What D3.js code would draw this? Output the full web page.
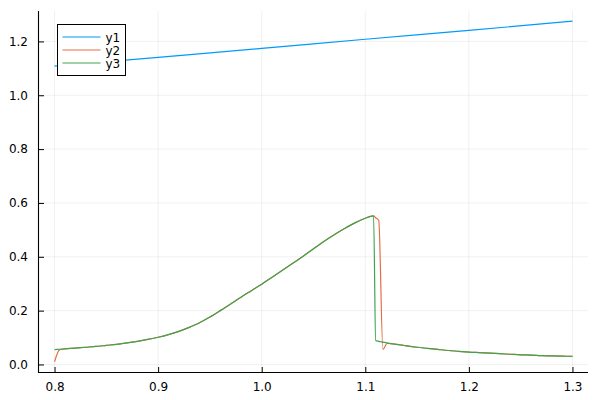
<!DOCTYPE html>
<html>
<head>
<meta charset="utf-8">
<script src="https://cdn.jsdelivr.net/npm/d3@7"></script>
<style>
  html, body { margin: 0; padding: 0; background: #fff; }
  svg { display: block; }
  text { font-family: "DejaVu Sans", sans-serif; }
</style>
</head>
<body>
<svg id="chart" width="600" height="400"></svg>
<script>
// ---- data ----
const seriesNames = ["y1", "y2", "y3"];
const seriesColors = ["#009AFA", "#E36F47", "#3EA44E"];

const y1X = [0.80, 0.90, 1.00, 1.10, 1.20, 1.30];
const y1Values = [1.108, 1.141, 1.174, 1.208, 1.241, 1.275];

const curveX = [0.800, 0.805, 0.81, 0.82, 0.83, 0.84, 0.85, 0.86, 0.87, 0.88, 0.89,
  0.90, 0.91, 0.92, 0.93, 0.94, 0.95, 0.96, 0.97, 0.98, 0.99,
  1.00, 1.01, 1.02, 1.03, 1.04, 1.05, 1.06, 1.07, 1.08, 1.09,
  1.10, 1.105, 1.108, 1.110, 1.113, 1.117, 1.121,
  1.13, 1.14, 1.15, 1.16, 1.17, 1.18, 1.19,
  1.20, 1.21, 1.22, 1.23, 1.24, 1.25, 1.26, 1.27, 1.28, 1.29, 1.30];

const y2Values = [0.010, 0.055, 0.058, 0.061, 0.064, 0.067, 0.071, 0.075, 0.080, 0.086, 0.093,
  0.101, 0.111, 0.123, 0.138, 0.155, 0.176, 0.200, 0.225, 0.250, 0.274,
  0.298, 0.324, 0.350, 0.376, 0.402, 0.430, 0.457, 0.482, 0.505, 0.526,
  0.543, 0.550, 0.552, 0.545, 0.535, 0.056, 0.078,
  0.075, 0.069, 0.064, 0.060, 0.056, 0.052, 0.049,
  0.046, 0.044, 0.042, 0.040, 0.038, 0.036, 0.035, 0.033, 0.032, 0.031, 0.030];

const y3Values = [0.055, 0.0565, 0.058, 0.061, 0.064, 0.067, 0.071, 0.075, 0.080, 0.086, 0.093,
  0.101, 0.111, 0.123, 0.138, 0.155, 0.176, 0.200, 0.225, 0.250, 0.274,
  0.298, 0.324, 0.350, 0.376, 0.402, 0.430, 0.457, 0.482, 0.505, 0.526,
  0.543, 0.550, 0.552, 0.089, 0.086, 0.083, 0.080,
  0.075, 0.069, 0.064, 0.060, 0.056, 0.052, 0.049,
  0.046, 0.044, 0.042, 0.040, 0.038, 0.036, 0.035, 0.033, 0.032, 0.031, 0.030];

const xTicks = [0.8, 0.9, 1.0, 1.1, 1.2, 1.3];
const yTicks = [0.0, 0.2, 0.4, 0.6, 0.8, 1.0, 1.2];

// ---- layout ----
const svg = d3.select("#chart");
const plot = { left: 39, right: 588, top: 11, bottom: 372 };

const allX = y1X.concat(curveX);
const allY = y1Values.concat(y2Values, y3Values);
const xMin = d3.min(allX), xMax = d3.max(allX);
const yMin = d3.min(allY), yMax = d3.max(allY);
const xPad = (xMax - xMin) * 0.03, yPad = (yMax - yMin) * 0.03;

const x = d3.scaleLinear().domain([xMin - xPad, xMax + xPad]).range([plot.left, plot.right]);
const y = d3.scaleLinear().domain([yMin - yPad, yMax + yPad]).range([plot.bottom, plot.top]);

// grid
const grid = svg.append("g").attr("stroke", "#000").attr("stroke-opacity", 0.1).attr("stroke-width", 0.6);
grid.selectAll("line.gx").data(xTicks).join("line")
  .attr("x1", d => x(d)).attr("x2", d => x(d))
  .attr("y1", plot.top).attr("y2", plot.bottom);
grid.selectAll("line.gy").data(yTicks).join("line")
  .attr("y1", d => y(d)).attr("y2", d => y(d))
  .attr("x1", plot.left).attr("x2", plot.right);

// axes
const fmt = d3.format(".1f");
const xAxis = d3.axisBottom(x).tickValues(xTicks).tickFormat(fmt).tickSizeInner(-5).tickSizeOuter(0).tickPadding(10);
const yAxis = d3.axisLeft(y).tickValues(yTicks).tickFormat(fmt).tickSizeInner(-5).tickSizeOuter(0).tickPadding(11);

const gx = svg.append("g").attr("transform", `translate(0,${plot.bottom})`).call(xAxis);
const gy = svg.append("g").attr("transform", `translate(${plot.left},0)`).call(yAxis);
[gx, gy].forEach(g => {
  g.select(".domain").remove();
  g.selectAll(".tick line").attr("stroke", "#000").attr("stroke-width", 1);
  g.selectAll(".tick text").attr("fill", "#000").style("font-family", "'DejaVu Sans', sans-serif").style("font-size", "12px");
});
svg.append("line").attr("x1", plot.left).attr("x2", plot.right).attr("y1", plot.bottom + 0.5).attr("y2", plot.bottom + 0.5)
  .attr("stroke", "#000").attr("stroke-width", 1.1);
svg.append("line").attr("x1", plot.left - 0.5).attr("x2", plot.left - 0.5).attr("y1", plot.top).attr("y2", plot.bottom + 1)
  .attr("stroke", "#000").attr("stroke-width", 1.1);

// series
const line = d3.line().x(d => x(d[0])).y(d => y(d[1])).curve(d3.curveMonotoneX);
const seriesData = [
  d3.zip(y1X, y1Values),
  d3.zip(curveX, y2Values),
  d3.zip(curveX, y3Values)
];
seriesData.forEach((data, i) => {
  svg.append("path").datum(data)
    .attr("fill", "none")
    .attr("stroke", seriesColors[i])
    .attr("stroke-width", 1.2)
    .attr("stroke-linejoin", "round")
    .attr("d", line);
});

// legend
const lg = svg.append("g").attr("transform", "translate(57.5,24.5)");
lg.append("rect").attr("width", 68).attr("height", 51).attr("fill", "#fff").attr("stroke", "#000").attr("stroke-width", 1);
seriesNames.forEach((name, i) => {
  const yy = 12.5 + i * 13;
  lg.append("line").attr("x1", 5).attr("x2", 43).attr("y1", yy).attr("y2", yy)
    .attr("stroke", seriesColors[i]).attr("stroke-width", 1.2);
  lg.append("text").attr("x", 48).attr("y", yy + 4.5).text(name)
    .attr("fill", "#000").style("font-size", "12px");
});
</script>
</body>
</html>
